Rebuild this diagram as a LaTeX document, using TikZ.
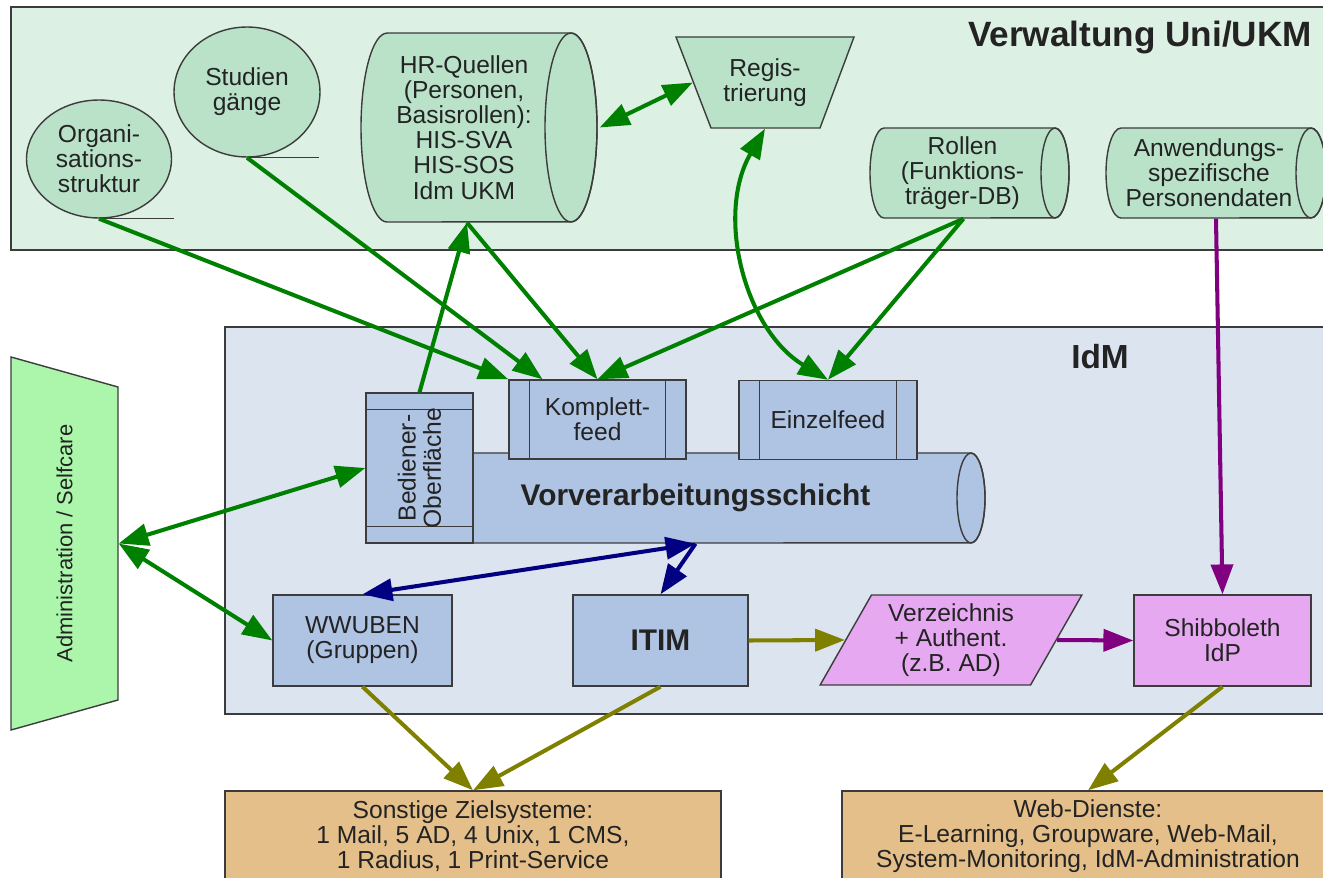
\documentclass[tikz,border=0pt]{standalone}
\usepackage{fontspec}
\setmainfont{Liberation Sans}
\usetikzlibrary{shapes.geometric,arrows.meta}
\definecolor{cus-mint}{RGB}{221, 240, 228}
\definecolor{cus-green}{RGB}{185, 226, 200}
\definecolor{cus-sky}{RGB}{220, 228, 240}
\definecolor{cus-blue}{RGB}{175, 195, 227}
\definecolor{cus-lime}{RGB}{172, 246, 172}
\definecolor{cus-violet}{RGB}{230, 168, 240}
\definecolor{cus-tan}{RGB}{228, 191, 138}
\definecolor{cus-line}{RGB}{60, 60, 60}
\definecolor{cus-text}{RGB}{35, 35, 35}
\definecolor{cus-dgreen}{RGB}{0, 128, 0}
\definecolor{cus-navy}{RGB}{0, 0, 128}
\definecolor{cus-olive}{RGB}{128, 128, 0}
\definecolor{cus-purp}{RGB}{128, 0, 128}
\tikzset{
	box/.style={draw=cus-line, line width=0.8pt, text=cus-text, align=center, inner sep=0pt,
		font=\fontsize{14}{14.3}\selectfont},
	panel/.style={draw=cus-line, line width=0.9pt, anchor=north west, inner sep=0pt},
	link/.style={line width=2.3pt, -{Triangle[length=17pt,width=12.5pt]}},
	both/.style={line width=2.3pt, {Triangle[length=17pt,width=12.5pt]}-{Triangle[length=17pt,width=12.5pt]}}
}
% name, x, y, body width, height, end radius (all in px), fill, text, text offset
\newcommand{\dbcyl}[9]{
	\filldraw [draw=cus-line, line width=0.8pt, fill=#7] ({#2-#4/2},{#3-#5/2}) -- ({#2+#4/2},{#3-#5/2})
		arc [start angle=90, end angle=-90, x radius={#6*0.02cm}, y radius={#5*0.01cm}]
		-- ({#2-#4/2},{#3+#5/2})
		arc [start angle=270, end angle=90, x radius={#6*0.02cm}, y radius={#5*0.01cm}] -- cycle;
	\draw [cus-line, line width=0.8pt] ({#2+#4/2},#3) ellipse [x radius={#6*0.02cm}, y radius={#5*0.01cm}];
	\node [box, draw=none, minimum width={#4*0.02cm}, minimum height={#5*0.02cm}] (#1) at (#2,#3) {};
	\node [box, draw=none] (#1-t) at ({#2+#9},#3) {#8};
}

\begin{document}
\begin{tikzpicture}[x=0.02cm, y=-0.02cm]
\useasboundingbox (0,0) rectangle (1323,878);
\clip (0,0) rectangle (1323,878);

\node [panel, fill=cus-mint, minimum width=26.7cm, minimum height=4.86cm] (verw) at (10,6) {};
\node [panel, fill=cus-sky, minimum width=22.42cm, minimum height=7.74cm] (idmbox) at (224,326) {};
\node [text=cus-text, font=\bfseries\fontsize{20}{20}\selectfont, anchor=east] (verwt) at (1318,37) {Verwaltung Uni/UKM};
\node [text=cus-text, font=\bfseries\fontsize{19}{19}\selectfont] (idmt) at (1100,357) {IdM};

\node [box, ellipse, fill=cus-green, minimum width=2.9cm, minimum height=2.36cm] (org) at (99,159) {Organi-\\sations-\\struktur};
\draw [cus-line, line width=0.8pt] (org.south) -- ++(75,0);
\node [box, ellipse, fill=cus-green, minimum width=2.92cm, minimum height=2.6cm] (stud) at (247,92) {Studien\\gänge};
\draw [cus-line, line width=0.8pt] (stud.south) -- ++(72,0);
\dbcyl{hrq}{479}{127.5}{184}{189}{26}{cus-green}{HR-Quellen\\(Personen,\\Basisrollen):\\HIS-SVA\\HIS-SOS\\Idm UKM}{-15}
\filldraw [draw=cus-line, line width=0.8pt, fill=cus-green] (676,37) -- (854,37) -- (820,128) -- (711,128) -- cycle;
\node [box, draw=none, minimum width=2.86cm, minimum height=1.82cm] (reg) at (765,82.5) {Regis-\\trierung};
\dbcyl{rol}{969.5}{173}{171}{90}{14}{cus-green}{Rollen\\(Funktions-\\träger-DB)}{-7}
\dbcyl{anw}{1216}{173}{190}{90}{15}{cus-green}{Anwendungs-\\spezifische\\Personendaten}{-7}

\filldraw [draw=cus-line, line width=0.8pt, fill=cus-lime] (11,357) -- (118,387) -- (118,700) -- (11,730) -- cycle;
\node [box, draw=none, minimum width=2.14cm, minimum height=6.26cm] (adm) at (64.5,543.5) {};
\node [box, draw=none, rotate=90, font=\fontsize{12.5}{13}\selectfont] (adm-t) at (adm.center) {Administration / Selfcare};

\dbcyl{vv}{695.5}{498}{551}{90}{14}{cus-blue}{\bfseries\fontsize{17}{17}\selectfont Vorverarbeitungsschicht}{0}
\node [box, fill=cus-blue, minimum width=3.54cm, minimum height=1.58cm] (kf) at (597.5,419.5) {Komplett-\\feed};
\draw [cus-line, line width=0.8pt] ([xshift=0.42cm]kf.north west) -- ([xshift=0.42cm]kf.south west)
	([xshift=-0.42cm]kf.north east) -- ([xshift=-0.42cm]kf.south east);
\node [box, fill=cus-blue, minimum width=3.56cm, minimum height=1.58cm] (ef) at (828,420) {Einzelfeed};
\draw [cus-line, line width=0.8pt] ([xshift=0.42cm]ef.north west) -- ([xshift=0.42cm]ef.south west)
	([xshift=-0.42cm]ef.north east) -- ([xshift=-0.42cm]ef.south east);
\node [box, fill=cus-blue, minimum width=2.14cm, minimum height=3cm] (bed) at (419.5,468) {};
\draw [cus-line, line width=0.8pt] ([yshift=-0.34cm]bed.north west) -- ([yshift=-0.34cm]bed.north east)
	([yshift=0.34cm]bed.south west) -- ([yshift=0.34cm]bed.south east);
\node [box, draw=none, rotate=90] (bed-t) at (bed.center) {Bediener-\\Oberfläche};

\node [box, fill=cus-blue, minimum width=3.58cm, minimum height=1.82cm] (ww) at (362.5,640.5) {WWUBEN\\(Gruppen)};
\node [box, fill=cus-blue, minimum width=3.5cm, minimum height=1.82cm, font=\bfseries\fontsize{17}{17}\selectfont] (itim) at (660.5,640.5) {ITIM};
\node [box, trapezium, trapezium left angle=61, trapezium right angle=119, trapezium stretches=true,
	minimum width=5.24cm, minimum height=1.8cm, fill=cus-violet] (vz) at (951,640) {Verzeichnis\\+ Authent.\\(z.B. AD)};
\node [box, fill=cus-violet, minimum width=3.54cm, minimum height=1.82cm] (shib) at (1222.5,640.5) {Shibboleth\\IdP};

\node [box, fill=cus-tan, minimum width=9.92cm, minimum height=1.8cm] (son) at (473,836) {Sonstige Zielsysteme:\\1 Mail, 5 AD, 4 Unix, 1 CMS,\\1 Radius, 1 Print-Service};
\node [box, fill=cus-tan, minimum width=9.84cm, minimum height=1.8cm] (web) at (1088,836) {Web-Dienste:\\E-Learning, Groupware, Web-Mail,\\System-Monitoring, IdM-Administration};

\draw [link, cus-dgreen] (org.south) -- (kf.north west);
\draw [link, cus-dgreen] (stud.south) -- ([xshift=-1.1cm]kf.north);
\draw [link, cus-dgreen] ([xshift=-0.24cm]hrq.south) -- (kf.north);
\draw [link, cus-dgreen] (bed.north) -- ([xshift=-0.24cm]hrq.south);
\draw [both, cus-dgreen] ([xshift=0.56cm]hrq.east) -- (reg.west);
\draw [both, cus-dgreen] (reg.south) .. controls (715,215) and (745,330) .. (ef.north);
\draw [link, cus-dgreen] ([xshift=-0.12cm]rol.south) -- (kf.north);
\draw [link, cus-dgreen] ([xshift=-0.12cm]rol.south) -- (ef.north);
\draw [both, cus-dgreen] (adm.east) -- (bed.west);
\draw [both, cus-dgreen] (adm.east) -- (ww.west);
\draw [both, cus-navy] (ww.north) -- (vv.south);
\draw [link, cus-navy] (vv.south) -- (itim.north);
\draw [link, cus-olive] (itim.east) -- (vz.west);
\draw [link, cus-olive] (ww.south) -- (son.north);
\draw [link, cus-olive] (itim.south) -- (son.north);
\draw [link, cus-olive] (shib.south) -- (web.north);
\draw [link, cus-purp] (vz.east) -- (shib.west);
\draw [link, cus-purp] (anw.south) -- (shib.north);
\end{tikzpicture}
\end{document}
